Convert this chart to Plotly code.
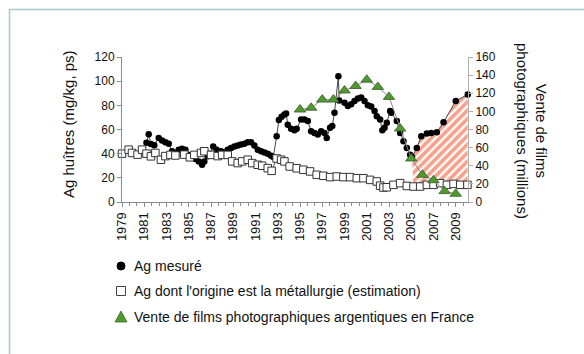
import plotly.graph_objects as go

# Ag measured in oysters (mg/kg, dry weight)
ag_years = [1981.2, 1981.4, 1981.6, 1981.9, 1982.3, 1982.6, 1982.9, 1983.2, 1983.5, 1983.8,
            1984.1, 1984.4, 1984.7, 1985.0, 1985.3, 1985.6, 1985.9, 1986.2, 1986.4, 1986.7,
            1986.9, 1987.2, 1987.5, 1987.9, 1988.2, 1988.5, 1988.8, 1989.1, 1989.4, 1989.7,
            1990.0, 1990.3, 1990.6, 1990.9, 1991.2, 1991.5, 1991.8, 1992.1, 1992.4, 1992.6,
            1992.9, 1993.1, 1993.35, 1993.6, 1993.75, 1993.9, 1994.2, 1994.5, 1994.7, 1995.1,
            1995.4, 1995.7, 1996.0, 1996.3, 1996.6, 1996.9, 1997.2, 1997.4, 1997.7, 1997.9,
            1998.1, 1998.45, 1998.52, 1999.0, 1999.3, 1999.6, 1999.9, 2000.2, 2000.5, 2000.8,
            2001.1, 2001.4, 2001.7, 2001.9, 2002.2, 2002.4, 2002.6, 2002.8, 2003.1, 2003.2,
            2003.7, 2004.0, 2004.3, 2004.6, 2004.9, 2005.06, 2005.5, 2005.9, 2006.4, 2006.8,
            2007.3, 2007.9, 2009.0, 2010.08]
ag_values = [49, 56, 48, 47, 53, 51, 49.4, 48.3, 42, 40.6,
             43.3, 44, 43.3, 39, 37, 35.5, 33.6, 30.8, 33.6, 37.8,
             40, 46, 43.3, 42, 41, 43.3, 44.7, 46, 46.7, 47.5,
             48.3, 49.4, 49.4, 46.7, 43.3, 42, 41, 40, 38.3, 37.2,
             54.4, 67.8, 70.6, 72.5, 73.3, 64, 60.6, 59.4, 60.6, 68.3,
             68.3, 67, 58.6, 57.2, 55.8, 58.6, 57.2, 53, 61.4, 62.8,
             73.9, 104, 84, 82.2, 79.4, 80.8, 83.6, 85.6, 86.4, 83.6,
             80, 79, 75.3, 71, 68.3, 59.4, 61.4, 65.6, 75.3, 73.9,
             67, 57.2, 50.3, 44.7, 39.2, 37.2, 44.7, 54.4, 56.7, 57.2,
             57.8, 66, 83.6, 89]

# Ag whose origin is metallurgy (estimate, mg/kg)
metal_years = [1979.0, 1979.6, 1979.9, 1980.4, 1980.8, 1981.2, 1981.6, 1982.0, 1982.5, 1982.9,
               1983.35, 1983.8, 1984.6, 1985.1, 1985.5, 1986.1, 1986.4, 1987.0, 1987.6, 1988.0,
               1988.5, 1988.9, 1989.4, 1989.8, 1990.3, 1990.7, 1991.2, 1991.6, 1992.1, 1992.45,
               1992.9, 1993.3, 1993.6, 1994.07, 1994.7, 1995.3, 1995.9, 1996.5, 1997.1, 1997.7,
               1998.3, 1998.9, 1999.5, 2000.1, 2000.7, 2001.3, 2001.9, 2002.2, 2002.5, 2002.8,
               2003.4, 2004.0, 2004.6, 2005.2, 2005.8, 2006.4, 2007.0, 2007.6, 2008.2, 2008.8,
               2009.4, 2010.05]
metal_values = [40, 43.3, 40.6, 39.2, 43.3, 40, 37.8, 40.6, 35, 38,
                39, 38.5, 39.2, 37, 39, 40.6, 42, 39, 38, 39,
                39, 33.6, 32.2, 33.6, 35, 32.2, 30.8, 30, 28, 25.8,
                36, 35, 33.6, 29.4, 27.9, 26.7, 25.3, 22.5, 21.7, 20.6,
                21.1, 20.6, 20.6, 19.7, 19.7, 18.3, 17, 13.5, 12, 12.2,
                14.2, 15.6, 13.3, 12.8, 12.8, 14.2, 14.2, 15.6, 14.2, 15,
                14.2, 14.2]

# Silver-halide photographic film sales in France (millions)
film_years = list(range(1995, 2010))
film_values = [102, 104, 113, 113, 123, 128, 135, 127, 116, 81, 48, 30, 24, 12, 9]

year_ticks = list(range(1979, 2010, 2))

FONT = "Liberation Sans, Arial, sans-serif"
W, H = 584, 354
PL, PR, PT, PB = 122, 468, 57, 202  # plot area in pixels


def px(x):
    return (x - PL) / (PR - PL)


def py(y):
    return (PB - y) / (PB - PT)


fig = go.Figure()

# Hatched area: gap between measured Ag and metallurgical Ag since 2005
hx = [x for x in ag_years if x >= 2005]
hy = [v for x, v in zip(ag_years, ag_values) if x >= 2005]
lx = [x for x in metal_years if x >= 2005]
ly = [v for x, v in zip(metal_years, metal_values) if x >= 2005]
fig.add_trace(go.Scatter(
    x=hx + lx[::-1], y=hy + ly[::-1], mode="lines", fill="toself",
    line=dict(width=0), fillcolor="rgba(0,0,0,0)",
    fillpattern=dict(shape="/", fgcolor="#ee4317", bgcolor="white", size=6, solidity=0.62),
    hoverinfo="skip", showlegend=False, yaxis="y"))

fig.add_trace(go.Scatter(
    x=film_years, y=film_values, mode="lines+markers", yaxis="y2",
    line=dict(color="#8a8a8a", width=1),
    marker=dict(symbol="triangle-up", size=10, color="#4f9a2c", line=dict(color="#3d5a30", width=0.8)),
    cliponaxis=False, showlegend=False,
    name="Vente de films photographiques argentiques en France"))

fig.add_trace(go.Scatter(
    x=ag_years, y=ag_values, mode="lines+markers", yaxis="y",
    line=dict(color="#444444", width=1),
    marker=dict(symbol="circle", size=6.5, color="black"),
    cliponaxis=False, showlegend=False, name="Ag mesuré"))

fig.add_trace(go.Scatter(
    x=metal_years, y=metal_values, mode="lines+markers", yaxis="y",
    line=dict(color="#555555", width=1),
    marker=dict(symbol="square", size=7.5, color="white", line=dict(color="#333333", width=1)),
    cliponaxis=False, showlegend=False,
    name="Ag dont l'origine est la métallurgie (estimation)"))

axis_col = "#8c8c8c"
fig.update_layout(
    width=W, height=H,
    margin=dict(l=PL, r=W - PR, t=PT, b=H - PB),
    paper_bgcolor="white", plot_bgcolor="white",
    font=dict(family=FONT, color="#111111", size=12),
    xaxis=dict(
        range=[1979, 2010.1], tickvals=year_ticks, ticktext=[str(y) for y in year_ticks],
        tickangle=-90, tickfont=dict(size=13), ticks="outside", ticklen=4, tickcolor=axis_col,
        minor=dict(dtick=2 / 3, tick0=1979, ticks="outside", ticklen=3, tickcolor=axis_col),
        showgrid=False, zeroline=False, showline=True, linecolor=axis_col, linewidth=1,
    ),
    yaxis=dict(
        range=[0, 120], dtick=20, ticks="outside", ticklen=4, tickcolor=axis_col,
        tickfont=dict(size=12), showgrid=False, zeroline=False,
        showline=True, linecolor=axis_col, linewidth=1,
    ),
    yaxis2=dict(
        range=[0, 160], dtick=20, side="right", overlaying="y", anchor="x",
        ticks="outside", ticklen=4, tickcolor="#b0b0b0", tickfont=dict(size=12),
        showgrid=False, zeroline=False, showline=True, linecolor="#b0b0b0", linewidth=1,
    ),
    showlegend=False,
)

# Outer frame
fig.add_shape(type="rect", xref="paper", yref="paper",
              x0=px(9.5), x1=px(620), y0=py(400), y1=py(9.5),
              line=dict(color="#a9c9c9", width=1.5), layer="below")

# Axis titles
fig.add_annotation(text="Ag huîtres (mg/kg, ps)", xref="paper", yref="paper",
                   x=px(68), y=py(124), xanchor="center", yanchor="middle",
                   textangle=-90, showarrow=False, font=dict(size=15, family=FONT))
fig.add_annotation(text="Vente de films<br>photographiques (millions)", xref="paper", yref="paper",
                   x=px(532), y=py(131), xanchor="center", yanchor="middle",
                   textangle=90, showarrow=False, font=dict(size=15, family=FONT))

# Legend
legend_rows = [
    ("Ag mesuré", 266),
    ("Ag dont l'origine est la métallurgie (estimation)", 291),
    ("Vente de films photographiques argentiques en France", 317),
]
mx = px(121)
fig.add_shape(type="circle", xref="paper", yref="paper", xsizemode="pixel", ysizemode="pixel",
              xanchor=mx, yanchor=py(266), x0=-4, x1=4, y0=-4, y1=4,
              fillcolor="black", line=dict(color="black", width=1))
fig.add_shape(type="rect", xref="paper", yref="paper", xsizemode="pixel", ysizemode="pixel",
              xanchor=mx, yanchor=py(291), x0=-4.5, x1=4.5, y0=-4.5, y1=4.5,
              fillcolor="white", line=dict(color="#444444", width=1))
fig.add_shape(type="path", xref="paper", yref="paper", xsizemode="pixel", ysizemode="pixel",
              xanchor=mx, yanchor=py(317), path="M -6,-5 L 6,-5 L 0,6 Z",
              fillcolor="#4f9a2c", line=dict(color="#3d6a30", width=0.8))
for label, yrow in legend_rows:
    fig.add_annotation(text=label, xref="paper", yref="paper", x=px(132), y=py(yrow),
                       xanchor="left", yanchor="middle", showarrow=False,
                       font=dict(size=14, family=FONT))

fig.write_html("out.html")
